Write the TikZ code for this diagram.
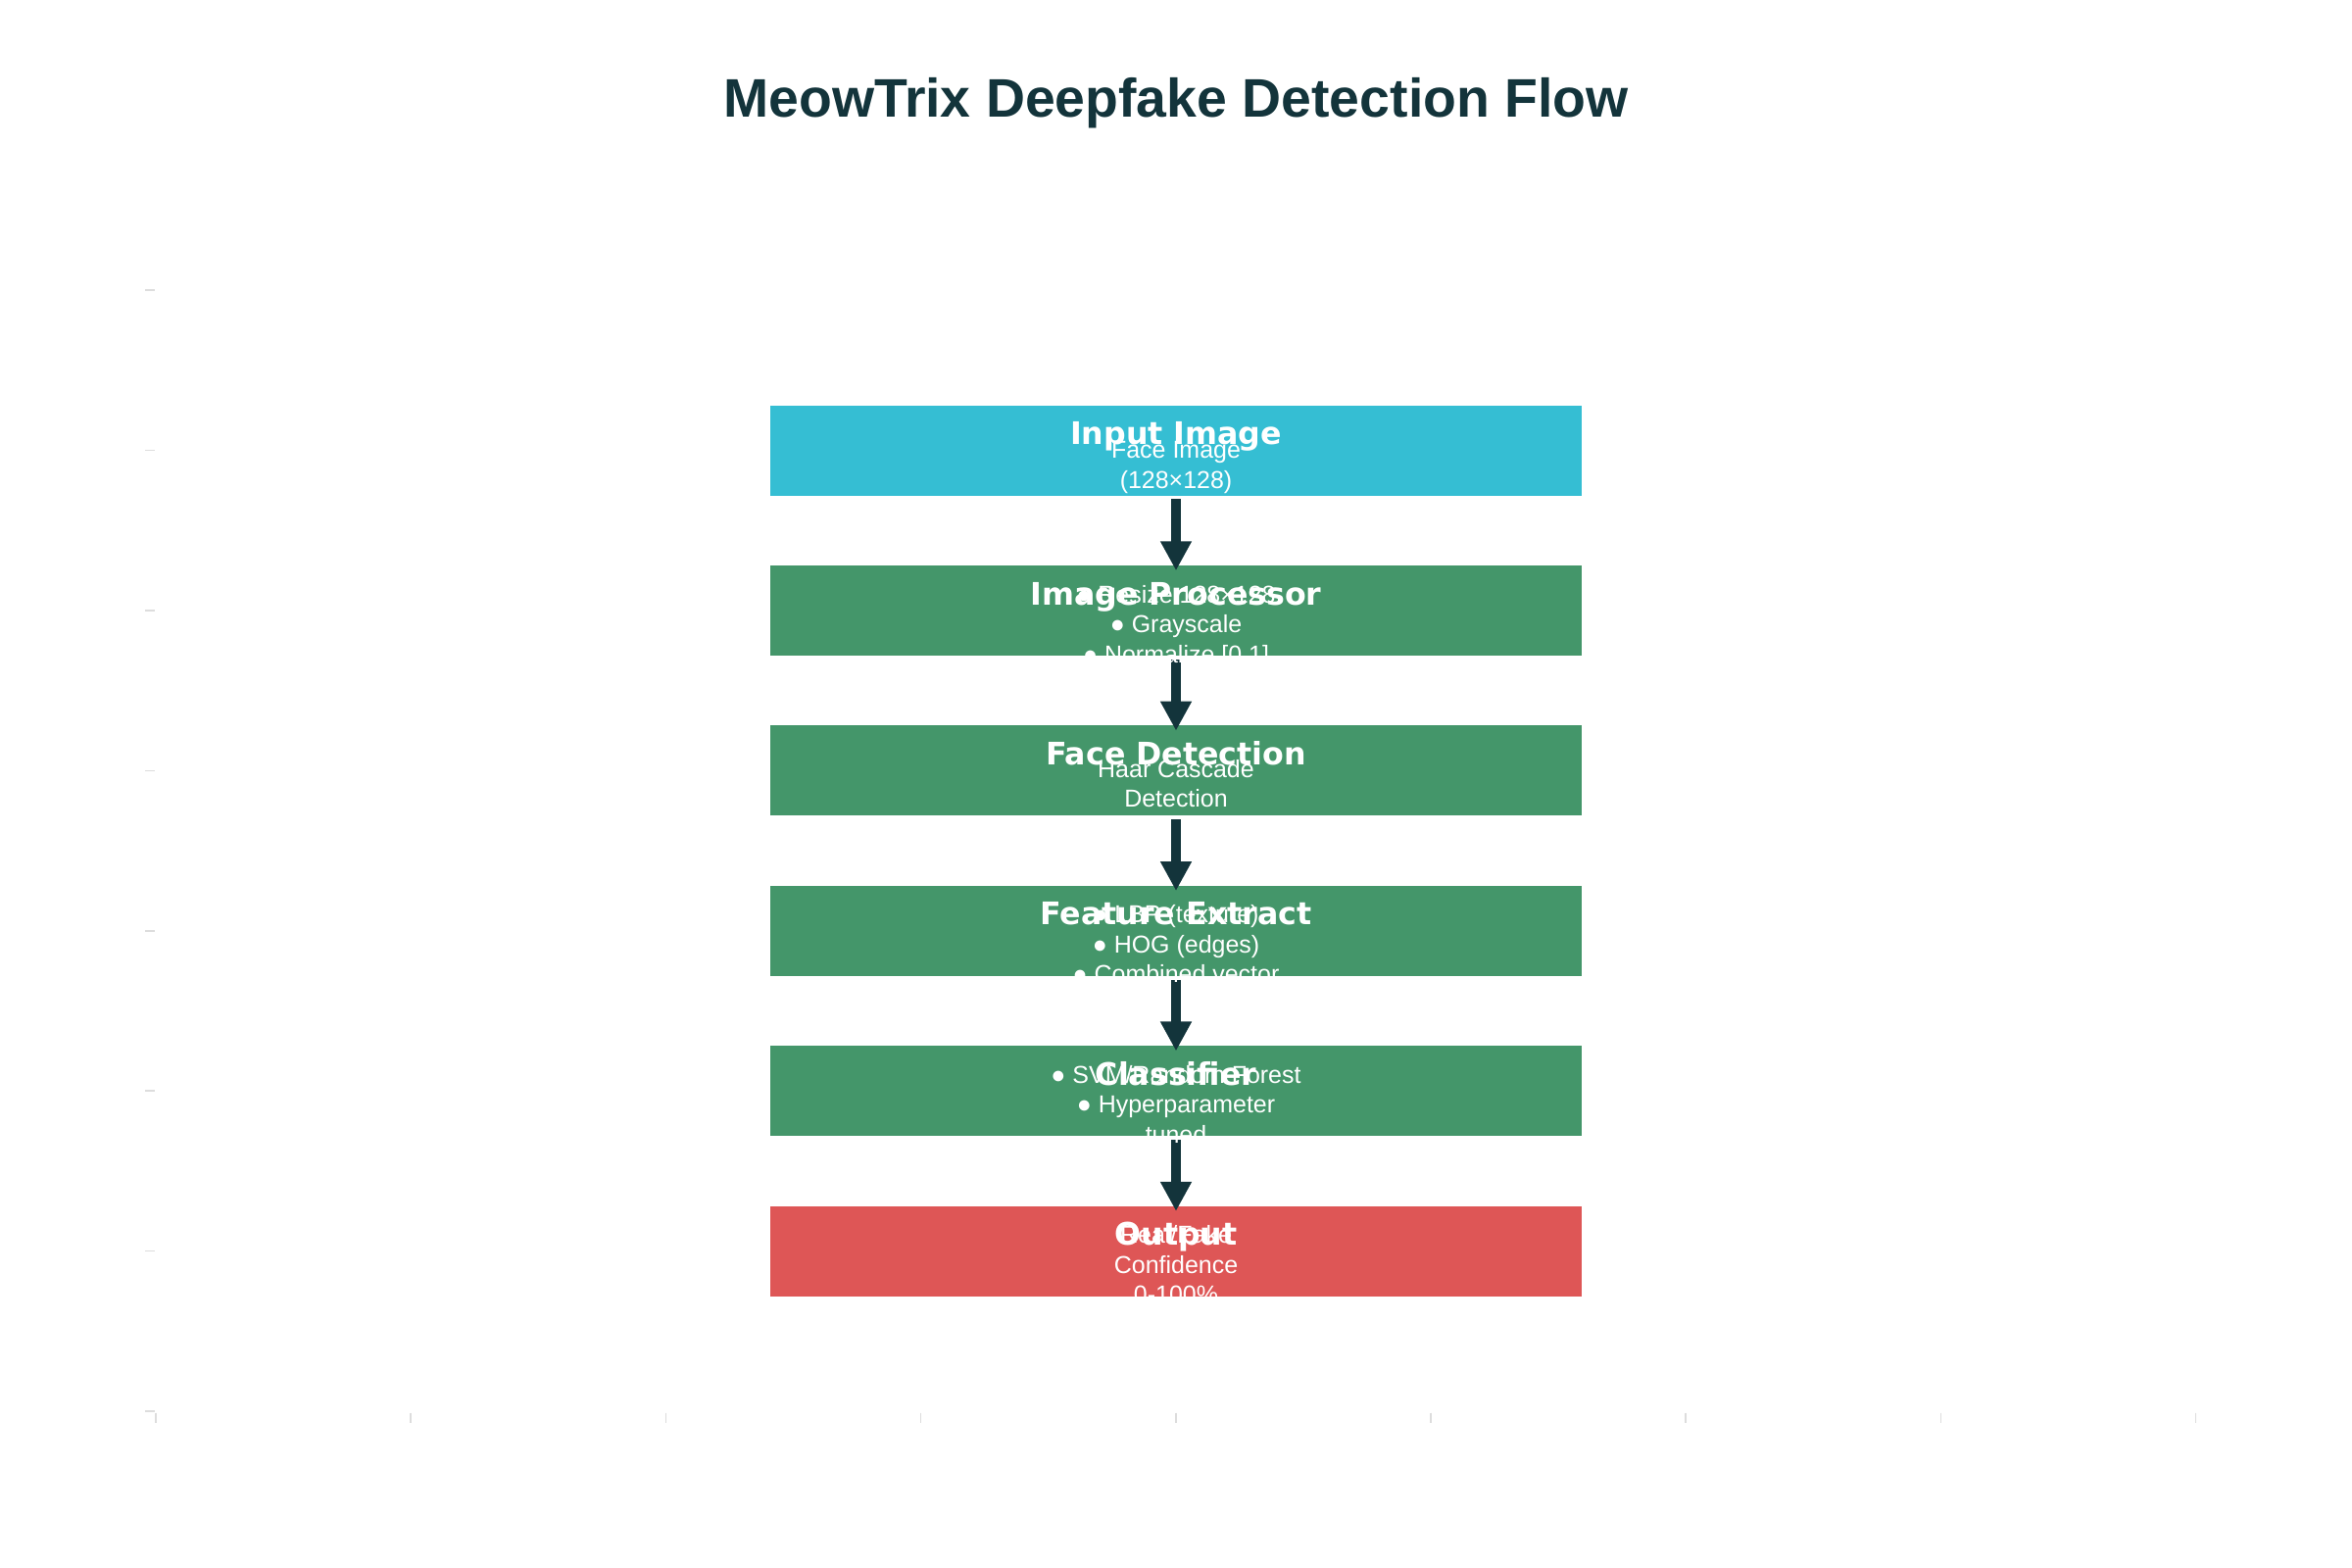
\documentclass[tikz,border=0pt]{standalone}
\usepackage{fontspec}
\setmainfont{Liberation Sans}
\newfontfamily\djvbold{DejaVu Sans}[BoldFont={DejaVu Sans Bold}]
\usetikzlibrary{arrows.meta}
\definecolor{ink}{HTML}{13343B}
\definecolor{cyanbox}{HTML}{35BED3}
\definecolor{greenbox}{HTML}{44966A}
\definecolor{redbox}{HTML}{DE5656}
\definecolor{tickgray}{HTML}{DDDDDD}
\tikzset{
  stagebox/.style={rectangle, fill=#1, draw=none, inner sep=0pt,
    minimum width=8.28cm, minimum height=0.92cm},
  flow/.style={draw=ink, line width=0.1cm,
    -{Triangle[length=0.3cm, width=0.3cm]}},
  boxtitle/.style={anchor=base, inner sep=0pt, text=white,
    font=\djvbold\bfseries\fontsize{9.0}{10}\selectfont},
  boxsub/.style={anchor=base, inner sep=0pt, text=white,
    font=\fontsize{7.1}{8.5}\selectfont},
  tickmark/.style={draw=tickgray, line width=0.015cm}
}
\begin{document}
\begin{tikzpicture}[x=0.01cm, y=-0.01cm]
\useasboundingbox[fill=white] (0,0) rectangle (2400,1600);

% faint axis ticks
\foreach \k in {0,...,8} {
  \draw[tickmark] ({159+260.2*\k},1441.5) -- ({159+260.2*\k},1451.5);
}
\foreach \k in {0,...,7} {
  \draw[tickmark] (148.3,{1440-163.4*\k}) -- (158.3,{1440-163.4*\k});
}

% title
\node[anchor=base, inner sep=0pt, text=ink,
      font=\bfseries\fontsize{15.75}{19}\selectfont] (title) at (1200,119.3)
  {MeowTrix Deepfake Detection Flow};

% boxes
\node[stagebox=cyanbox]  (inp) at (1200,459.6) {};
\node[stagebox=greenbox] (ip)  at (1200,623.0) {};
\node[stagebox=greenbox] (fd)  at (1200,786.4) {};
\node[stagebox=greenbox] (fe)  at (1200,949.8) {};
\node[stagebox=greenbox] (cl)  at (1200,1113.2) {};
\node[stagebox=redbox]   (out) at (1200,1276.6) {};

% arrows
\draw[flow] ([yshift=-0.03cm]inp.south) -- ([yshift=-0.06cm]ip.north);
\draw[flow] ([yshift=-0.03cm]ip.south)  -- ([yshift=-0.06cm]fd.north);
\draw[flow] ([yshift=-0.03cm]fd.south)  -- ([yshift=-0.06cm]fe.north);
\draw[flow] ([yshift=-0.03cm]fe.south)  -- ([yshift=-0.06cm]cl.north);
\draw[flow] ([yshift=-0.03cm]cl.south)  -- ([yshift=-0.06cm]out.north);

% box titles
\node[boxtitle] (inpT) at (1200,453.6)  {Input Image};
\node[boxtitle] (ipT)  at (1200,617.0)  {Image Processor};
\node[boxtitle] (fdT)  at (1200,780.4)  {Face Detection};
\node[boxtitle] (feT)  at (1200,943.8)  {Feature Extract};
\node[boxtitle] (clT)  at (1200,1107.2) {Classifier};
\node[boxtitle] (outT) at (1200,1270.6) {Output};

% box texts
\node[boxsub] (inp1) at (1200,467.6) {Face Image};
\node[boxsub] (inp2) at (1200,498.1) {(128×128)};

\node[boxsub] (ip1) at (1200,615.0) {● Resize 128×128};
\node[boxsub] (ip2) at (1200,645.5) {● Grayscale};
\node[boxsub] (ip3) at (1200,676.0) {● Normalize [0,1]};

\node[boxsub] (fd1) at (1200,793.4) {Haar Cascade};
\node[boxsub] (fd2) at (1200,823.9) {Detection};

\node[boxsub] (fe1) at (1200,941.8)  {● LBP (texture)};
\node[boxsub] (fe2) at (1200,972.3)  {● HOG (edges)};
\node[boxsub] (fe3) at (1200,1002.8) {● Combined vector};

\node[boxsub] (cl1) at (1200,1105.2) {● SVM/Random Forest};
\node[boxsub] (cl2) at (1200,1135.7) {● Hyperparameter};
\node[boxsub] (cl3) at (1200,1166.2) {tuned};

\node[boxsub] (out1) at (1200,1268.6) {Real/Fake};
\node[boxsub] (out2) at (1200,1299.1) {Confidence};
\node[boxsub] (out3) at (1200,1329.6) {0-100\%};
\end{tikzpicture}
\end{document}
